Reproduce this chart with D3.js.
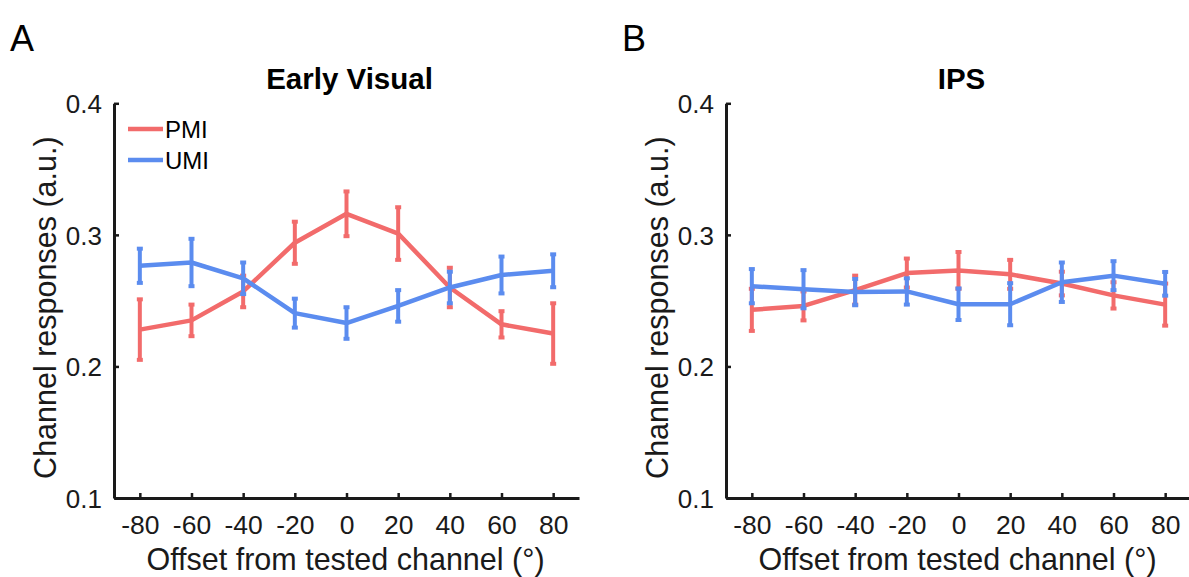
<!DOCTYPE html>
<html>
<head>
<meta charset="utf-8">
<script src="https://cdn.jsdelivr.net/npm/d3@7"></script>
<style>
  html, body { margin: 0; padding: 0; background: #fff; }
  svg { display: block; font-family: "Liberation Sans", Arial, Helvetica, sans-serif; }
</style>
</head>
<body>
<svg id="chart" width="1189" height="577"></svg>
<script>
// ---- Data ----
const offsets = [-80, -60, -40, -20, 0, 20, 40, 60, 80];
const yTicks = [0.1, 0.2, 0.3, 0.4];
const xTicks = [-80, -60, -40, -20, 0, 20, 40, 60, 80];
const seriesNames = ["PMI", "UMI"];

// Panel A: Early Visual
const evPMI    = [0.228, 0.235, 0.257, 0.294, 0.316, 0.301, 0.260, 0.232, 0.225];
const evPMIerr = [0.023, 0.012, 0.012, 0.016, 0.017, 0.020, 0.015, 0.010, 0.023];
const evUMI    = [0.2765, 0.279, 0.267, 0.2405, 0.233, 0.246, 0.260, 0.2695, 0.2727];
const evUMIerr = [0.013, 0.018, 0.012, 0.011, 0.012, 0.012, 0.012, 0.014, 0.0125];

// Panel B: IPS
const ipsPMI    = [0.243, 0.246, 0.258, 0.271, 0.273, 0.270, 0.263, 0.254, 0.247];
const ipsPMIerr = [0.016, 0.011, 0.011, 0.011, 0.014, 0.011, 0.009, 0.010, 0.016];
const ipsUMI    = [0.261, 0.2587, 0.2565, 0.257, 0.2473, 0.2473, 0.264, 0.269, 0.2628];
const ipsUMIerr = [0.013, 0.0145, 0.010, 0.010, 0.012, 0.016, 0.015, 0.011, 0.009];

const colors = { PMI: "#F26B6B", UMI: "#5B8CEF" };

const panels = [
  { letter: "A", title: "Early Visual", x0: 114, legend: true,
    series: [ { name: "PMI", v: evPMI, e: evPMIerr }, { name: "UMI", v: evUMI, e: evUMIerr } ] },
  { letter: "B", title: "IPS", x0: 726, legend: false,
    series: [ { name: "PMI", v: ipsPMI, e: ipsPMIerr }, { name: "UMI", v: ipsUMI, e: ipsUMIerr } ] }
];

const svg = d3.select("#chart");
const plotW = 465;
const yTop = 103.3, yBot = 498;
const axisColor = "#1a1a1a";
const textColor = "#1a1a1a";

panels.forEach(p => {
  const x = d3.scaleLinear().domain([-90, 90]).range([p.x0, p.x0 + plotW]);
  const y = d3.scaleLinear().domain([0.1, 0.4]).range([yBot, yTop]);
  const g = svg.append("g");

  // panel letter
  g.append("text").attr("x", p.x0 - 104).attr("y", 51)
    .attr("font-size", 36).attr("fill", "#000").text(p.letter);

  // title
  g.append("text").attr("x", p.x0 + plotW / 2 + 3).attr("y", 89)
    .attr("text-anchor", "middle").attr("font-size", 29.5).attr("font-weight", "bold")
    .attr("fill", "#000").text(p.title);

  // series: lines + error bars
  p.series.forEach(s => {
    const pts = offsets.map((o, i) => ({ o, v: s.v[i], e: s.e[i] }));
    const line = d3.line().x(d => x(d.o)).y(d => y(d.v));
    const sg = g.append("g");
    sg.append("path").datum(pts).attr("d", line)
      .attr("fill", "none").attr("stroke", colors[s.name])
      .attr("stroke-width", 4.5).attr("stroke-linejoin", "round");
    const eb = sg.selectAll("g.eb").data(pts).enter().append("g");
    eb.append("line")
      .attr("x1", d => x(d.o)).attr("x2", d => x(d.o))
      .attr("y1", d => y(d.v - d.e)).attr("y2", d => y(d.v + d.e))
      .attr("stroke", colors[s.name]).attr("stroke-width", 4);
    [-1, 1].forEach(sign => {
      eb.append("line")
        .attr("x1", d => x(d.o) - 3).attr("x2", d => x(d.o) + 3)
        .attr("y1", d => y(d.v + sign * d.e)).attr("y2", d => y(d.v + sign * d.e))
        .attr("stroke", colors[s.name]).attr("stroke-width", 4);
    });
  });

  // axes
  const yAxis = d3.axisLeft(y).tickValues(yTicks).tickFormat(d3.format(".1f"))
    .tickSizeInner(-5).tickSizeOuter(0).tickPadding(12);
  const ya = g.append("g").attr("transform", `translate(${p.x0},0)`).call(yAxis);
  const xAxis = d3.axisBottom(x).tickValues(xTicks).tickFormat(d => String(d))
    .tickSizeInner(-5).tickSizeOuter(0).tickPadding(12);
  const xa = g.append("g").attr("transform", `translate(0,${yBot})`).call(xAxis);
  [ya, xa].forEach(a => {
    a.select(".domain").attr("stroke", axisColor).attr("stroke-width", 3);
    a.selectAll(".tick line").attr("stroke", axisColor).attr("stroke-width", 2.5);
    a.selectAll(".tick text").attr("fill", textColor).attr("font-size", 26)
      .attr("font-family", "Liberation Sans, Arial, sans-serif");
  });
  ya.selectAll(".tick text").attr("dy", "0.36em");
  xa.selectAll(".tick text").attr("dy", "0.9em").attr("font-size", 26.5);

  // axis titles
  g.append("text").attr("x", p.x0 + plotW / 2 - 1).attr("y", 570)
    .attr("text-anchor", "middle").attr("font-size", 30.5).attr("fill", textColor)
    .text("Offset from tested channel (°)");
  g.append("text")
    .attr("transform", `translate(${p.x0 - 58},${(yTop + yBot) / 2 + 7}) rotate(-90)`)
    .attr("text-anchor", "middle").attr("font-size", 30.5).attr("fill", textColor)
    .text("Channel responses (a.u.)");

  // legend
  if (p.legend) {
    seriesNames.forEach((n, i) => {
      const ly = 129 + i * 31;
      g.append("line").attr("x1", p.x0 + 14).attr("x2", p.x0 + 49)
        .attr("y1", ly).attr("y2", ly)
        .attr("stroke", colors[n]).attr("stroke-width", 4.5);
      g.append("text").attr("x", p.x0 + 51).attr("y", ly + 9)
        .attr("font-size", 24).attr("fill", "#000").text(n);
    });
  }
});
</script>
</body>
</html>
